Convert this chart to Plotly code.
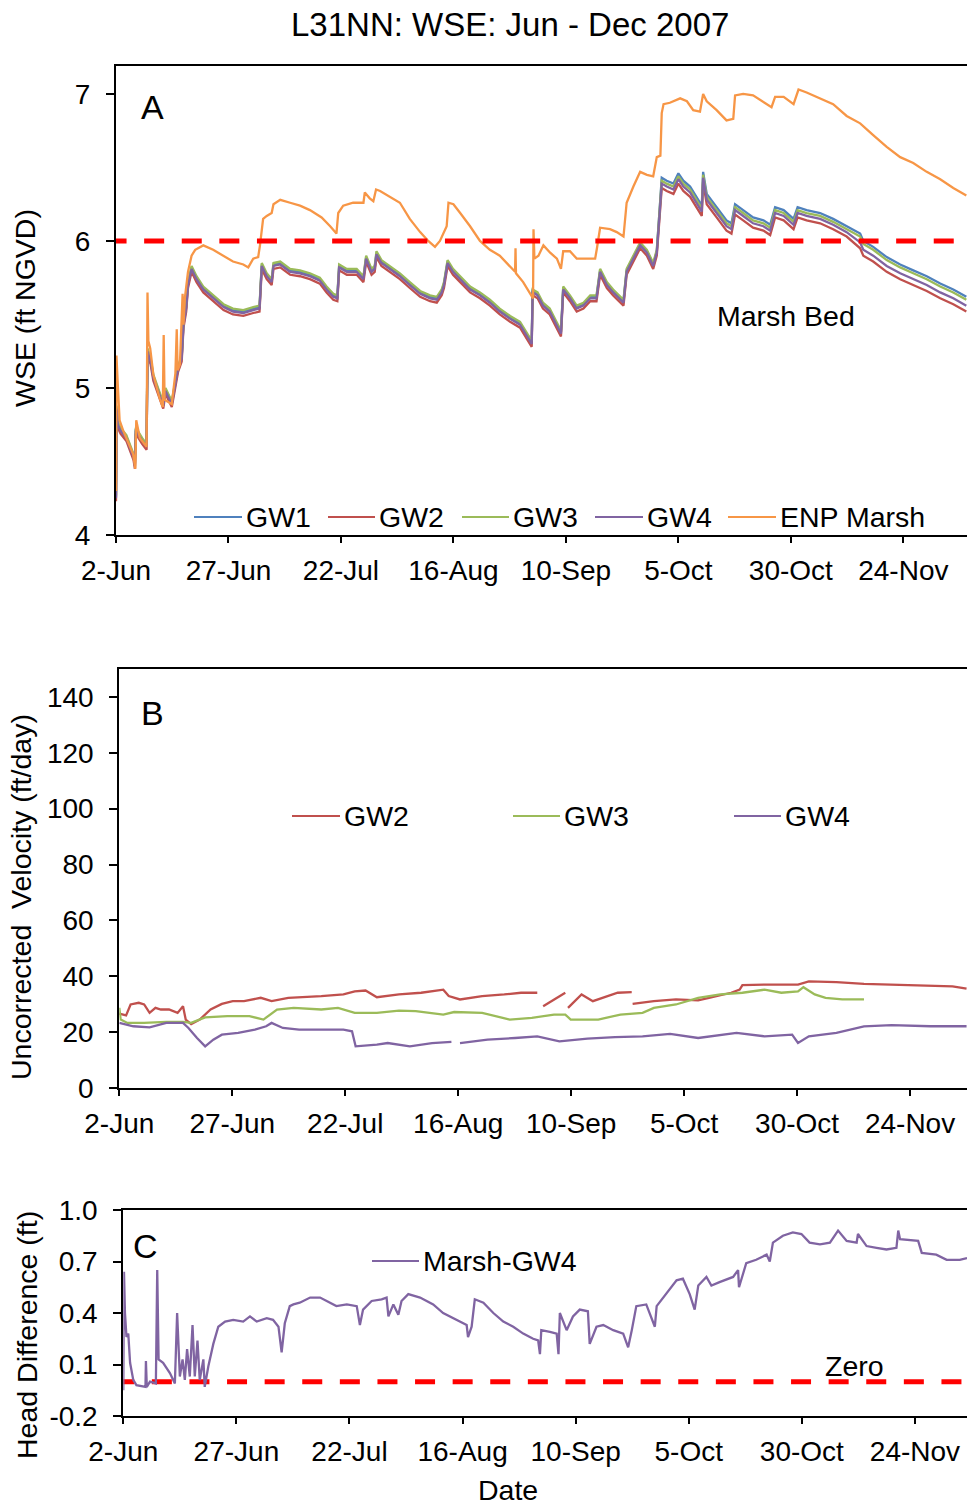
import pandas as pd
import plotly.graph_objects as go

W, H = 967, 1508
START = pd.Timestamp("2007-06-02")
FONT = "Liberation Sans, Arial, sans-serif"

# ---------------- data ----------------
tick_days = [0, 25, 50, 75, 100, 125, 150, 175]
tick_labels = ["2-Jun", "27-Jun", "22-Jul", "16-Aug", "10-Sep", "5-Oct", "30-Oct", "24-Nov"]

# Panel A: groundwater wells, days since 2-Jun-2007
gw_days = [
    0.0, 0.15, 0.4, 1.0, 2.3, 3.9, 4.2, 4.4, 5.8, 6.8,
    7.0, 7.7, 8.3, 9.4, 10.5, 11.0, 11.5, 12.4, 13.1, 13.8,
    14.6, 15.0, 15.6, 16.0, 16.8, 17.9, 19.4, 21.6, 23.9, 26.0,
    28.3, 30.5, 31.9, 32.4, 33.5, 34.6, 35.0, 36.5, 38.7, 40.9,
    43.1, 45.3, 46.8, 48.3, 49.2, 49.6, 51.3, 53.5, 55.0, 55.6,
    56.8, 57.5, 57.9, 59.0, 60.9, 63.1, 65.3, 67.6, 69.8, 71.3,
    72.4, 72.9, 73.7, 74.9, 76.5, 78.7, 80.9, 83.1, 85.3, 87.6,
    89.8, 91.2, 92.4, 92.6, 93.7, 94.9, 96.4, 97.9, 98.9, 99.4,
    100.9, 102.4, 103.9, 105.4, 106.8, 107.6, 109.1, 110.5, 112.8, 113.5,
    115.0, 116.5, 118.0, 119.4, 120.2, 120.6, 121.3, 122.4, 123.9, 125.0,
    126.1, 127.6, 129.0, 130.2, 130.5, 131.3, 133.5, 135.7, 136.8, 137.6,
    139.4, 141.6, 143.9, 145.4, 146.5, 148.4, 150.6, 151.5, 153.5, 156.5,
    159.4, 162.4, 165.4, 166.1, 168.3, 171.3, 174.3, 177.2, 180.2, 183.2,
    186.1, 189.0,
]
gw1_wse = [
    4.26, 4.87, 4.76, 4.72, 4.67, 4.54, 4.48, 4.72, 4.65, 4.61,
    5.26, 5.19, 5.08, 4.99, 4.89, 4.99, 4.96, 4.90, 5.02, 5.14,
    5.21, 5.44, 5.55, 5.71, 5.82, 5.75, 5.68, 5.62, 5.56, 5.53,
    5.52, 5.54, 5.55, 5.84, 5.77, 5.73, 5.84, 5.85, 5.80, 5.79,
    5.77, 5.74, 5.68, 5.63, 5.62, 5.83, 5.80, 5.80, 5.75, 5.89,
    5.80, 5.82, 5.92, 5.86, 5.82, 5.77, 5.71, 5.65, 5.62, 5.61,
    5.66, 5.71, 5.86, 5.80, 5.75, 5.68, 5.64, 5.59, 5.53, 5.48,
    5.44, 5.37, 5.31, 5.66, 5.64, 5.57, 5.53, 5.44, 5.38, 5.68,
    5.62, 5.55, 5.57, 5.62, 5.62, 5.80, 5.71, 5.66, 5.59, 5.80,
    5.89, 5.98, 5.93, 5.84, 5.93, 6.09, 6.43, 6.41, 6.39, 6.46,
    6.41, 6.37, 6.30, 6.24, 6.47, 6.32, 6.23, 6.14, 6.12, 6.25,
    6.21, 6.16, 6.14, 6.11, 6.23, 6.21, 6.15, 6.23, 6.21, 6.19,
    6.15, 6.10, 6.05, 6.00, 5.96, 5.89, 5.84, 5.80, 5.76, 5.71,
    5.67, 5.62,
]
gw2_wse = [
    4.23, 4.84, 4.73, 4.69, 4.64, 4.51, 4.45, 4.69, 4.62, 4.58,
    5.23, 5.16, 5.05, 4.96, 4.86, 4.96, 4.93, 4.87, 4.99, 5.11,
    5.18, 5.41, 5.52, 5.68, 5.79, 5.72, 5.65, 5.59, 5.53, 5.50,
    5.49, 5.51, 5.52, 5.81, 5.74, 5.70, 5.81, 5.82, 5.77, 5.76,
    5.74, 5.71, 5.65, 5.60, 5.59, 5.80, 5.77, 5.77, 5.72, 5.86,
    5.77, 5.79, 5.89, 5.83, 5.79, 5.74, 5.68, 5.62, 5.59, 5.58,
    5.63, 5.68, 5.83, 5.77, 5.72, 5.65, 5.61, 5.56, 5.50, 5.45,
    5.41, 5.34, 5.28, 5.63, 5.61, 5.54, 5.50, 5.41, 5.35, 5.65,
    5.59, 5.52, 5.54, 5.59, 5.59, 5.77, 5.68, 5.63, 5.56, 5.77,
    5.86, 5.95, 5.90, 5.81, 5.90, 6.06, 6.36, 6.34, 6.32, 6.39,
    6.34, 6.30, 6.23, 6.17, 6.40, 6.25, 6.16, 6.07, 6.05, 6.18,
    6.14, 6.09, 6.07, 6.04, 6.16, 6.14, 6.08, 6.16, 6.14, 6.12,
    6.08, 6.03, 5.95, 5.90, 5.86, 5.79, 5.74, 5.70, 5.66, 5.61,
    5.57, 5.52,
]
gw3_wse = [
    4.27, 4.88, 4.77, 4.73, 4.68, 4.55, 4.49, 4.73, 4.66, 4.62,
    5.27, 5.20, 5.09, 5.00, 4.90, 5.00, 4.97, 4.91, 5.03, 5.15,
    5.22, 5.45, 5.56, 5.72, 5.83, 5.76, 5.69, 5.63, 5.57, 5.54,
    5.53, 5.55, 5.56, 5.85, 5.78, 5.74, 5.85, 5.86, 5.81, 5.80,
    5.78, 5.75, 5.69, 5.64, 5.63, 5.84, 5.81, 5.81, 5.76, 5.90,
    5.81, 5.83, 5.93, 5.87, 5.83, 5.78, 5.72, 5.66, 5.63, 5.62,
    5.67, 5.72, 5.87, 5.81, 5.76, 5.69, 5.65, 5.60, 5.54, 5.49,
    5.45, 5.38, 5.32, 5.67, 5.65, 5.58, 5.54, 5.45, 5.39, 5.69,
    5.63, 5.56, 5.58, 5.63, 5.63, 5.81, 5.72, 5.67, 5.60, 5.81,
    5.90, 5.99, 5.94, 5.85, 5.94, 6.10, 6.41, 6.39, 6.37, 6.44,
    6.39, 6.35, 6.28, 6.22, 6.45, 6.30, 6.21, 6.12, 6.10, 6.23,
    6.19, 6.14, 6.12, 6.09, 6.21, 6.19, 6.13, 6.21, 6.19, 6.17,
    6.13, 6.08, 6.03, 5.98, 5.94, 5.87, 5.82, 5.78, 5.74, 5.69,
    5.65, 5.60,
]
gw4_wse = [
    4.25, 4.86, 4.75, 4.71, 4.66, 4.53, 4.47, 4.71, 4.64, 4.60,
    5.25, 5.18, 5.07, 4.98, 4.88, 4.98, 4.95, 4.89, 5.01, 5.13,
    5.20, 5.43, 5.54, 5.70, 5.81, 5.74, 5.67, 5.61, 5.55, 5.52,
    5.51, 5.53, 5.54, 5.83, 5.76, 5.72, 5.83, 5.84, 5.79, 5.78,
    5.76, 5.73, 5.67, 5.62, 5.61, 5.82, 5.79, 5.79, 5.74, 5.88,
    5.79, 5.81, 5.91, 5.85, 5.81, 5.76, 5.70, 5.64, 5.61, 5.60,
    5.65, 5.70, 5.85, 5.79, 5.74, 5.67, 5.63, 5.58, 5.52, 5.47,
    5.43, 5.36, 5.30, 5.65, 5.63, 5.56, 5.52, 5.43, 5.37, 5.67,
    5.61, 5.54, 5.56, 5.61, 5.61, 5.79, 5.70, 5.65, 5.58, 5.79,
    5.88, 5.97, 5.92, 5.83, 5.92, 6.08, 6.39, 6.37, 6.35, 6.42,
    6.37, 6.33, 6.26, 6.20, 6.43, 6.28, 6.19, 6.10, 6.08, 6.21,
    6.17, 6.12, 6.10, 6.07, 6.19, 6.17, 6.11, 6.19, 6.17, 6.15,
    6.11, 6.06, 5.99, 5.94, 5.90, 5.83, 5.78, 5.74, 5.70, 5.65,
    5.61, 5.56,
]

# Panel A: ENP marsh stage
enp_days = [
    0.0, 0.1, 0.4, 0.8, 1.6, 3.8, 4.3, 4.5, 5.3, 6.8,
    7.0, 7.2, 7.6, 8.3, 9.7, 10.4, 10.6, 10.8, 12.4, 13.2,
    13.5, 13.7, 14.2, 14.8, 15.0, 15.3, 16.0, 16.8, 17.6, 19.4,
    21.6, 23.8, 26.0, 28.3, 29.4, 30.5, 31.6, 32.0, 32.7, 33.5,
    34.6, 35.0, 36.5, 38.7, 40.9, 43.1, 44.6, 45.7, 47.6, 49.0,
    49.4, 50.5, 52.7, 55.0, 55.3, 56.4, 57.2, 57.8, 58.7, 60.9,
    63.1, 65.3, 67.6, 69.4, 70.9, 72.0, 73.5, 73.9, 75.0, 76.5,
    78.7, 80.9, 83.1, 85.3, 87.6, 88.7, 88.8, 88.9, 90.5, 92.0,
    92.7, 92.8, 93.0, 93.9, 95.0, 96.5, 98.0, 98.9, 99.4, 100.9,
    102.4, 104.6, 106.5, 106.9, 107.6, 109.8, 111.3, 112.8, 113.5, 115.0,
    116.5, 118.0, 119.4, 120.2, 121.0, 121.3, 121.7, 123.1, 125.4, 126.9,
    128.3, 129.8, 130.5, 131.3, 133.5, 135.7, 137.2, 137.6, 139.4, 141.6,
    143.1, 144.6, 145.7, 146.5, 148.4, 150.6, 151.7, 153.5, 156.5, 159.4,
    162.4, 165.4, 168.3, 171.3, 174.3, 177.2, 180.2, 183.2, 186.1, 189.0,
]
enp_wse = [
    4.30, 5.22, 5.02, 4.78, 4.71, 4.55, 4.45, 4.78, 4.66, 4.60,
    5.65, 5.32, 5.27, 5.09, 4.93, 4.87, 5.36, 4.92, 4.89, 5.10,
    5.40, 5.12, 5.16, 5.64, 5.43, 5.61, 5.79, 5.90, 5.94, 5.97,
    5.94, 5.90, 5.86, 5.84, 5.82, 5.88, 5.89, 5.97, 6.15, 6.17,
    6.19, 6.25, 6.28, 6.26, 6.24, 6.21, 6.18, 6.16, 6.10, 6.05,
    6.19, 6.24, 6.26, 6.26, 6.33, 6.29, 6.27, 6.35, 6.34, 6.30,
    6.26, 6.15, 6.06, 6.00, 5.96, 6.00, 6.10, 6.26, 6.25, 6.19,
    6.10, 6.00, 5.94, 5.90, 5.83, 5.79, 5.95, 5.78, 5.72, 5.65,
    5.61, 6.08, 5.88, 5.90, 5.97, 5.92, 5.88, 5.81, 5.93, 5.93,
    5.88, 5.88, 5.88, 5.95, 6.09, 6.08, 6.06, 6.03, 6.26, 6.37,
    6.47, 6.45, 6.44, 6.57, 6.58, 6.87, 6.93, 6.94, 6.97, 6.95,
    6.89, 6.88, 7.00, 6.95, 6.89, 6.82, 6.83, 6.99, 7.00, 6.99,
    6.96, 6.93, 6.91, 6.98, 6.98, 6.93, 7.03, 7.01, 6.97, 6.93,
    6.85, 6.80, 6.72, 6.64, 6.57, 6.53, 6.47, 6.42, 6.36, 6.31,
]
marsh_bed_elev = 6.0

# Panel B: uncorrected velocity (ft/day); None marks missing records
v2_days = [
    0.0, 1.5, 2.5, 4.3, 5.5, 6.7, 8.0, 9.2, 11.0, 12.9,
    14.1, 14.7, 15.9, 17.8, 20.2, 22.7, 25.1, 27.6, 31.3, 33.7,
    37.4, 41.0, 44.7, 49.6, 52.1, 54.5, 57.0, 61.9, 66.8, 71.7,
    72.9, 75.4, 80.3, 85.2, 88.9, 92.5, 93.2, 93.8, 96.0, 98.7,
    99.0, 99.3, 102.3, 104.8, 107.2, 110.3, 113.4, 113.5, 113.6, 118.3,
    123.2, 128.1, 130.5, 135.4, 137.3, 137.9, 142.8, 150.2, 152.6, 158.7,
    164.8, 172.2, 179.5, 184.4, 187.5,
]
v2_vel = [
    26.6, 26.0, 29.9, 30.5, 29.9, 26.9, 28.7, 28.1, 28.1, 26.9,
    29.3, 24.5, 22.9, 24.5, 28.1, 30.1, 31.1, 31.1, 32.3, 31.1,
    32.3, 32.5, 32.9, 33.5, 34.6, 34.9, 32.5, 33.5, 34.1, 35.2,
    32.9, 31.7, 32.9, 33.5, 34.1, 34.1, None, 29.3, 31.5, 34.1,
    None, 28.7, 33.5, 31.1, 32.3, 34.1, 34.3, None, 30.1, 31.1,
    31.7, 31.4, 32.3, 34.1, 35.2, 36.8, 37.0, 37.0, 38.2, 37.9,
    37.3, 37.0, 36.8, 36.4, 35.6,
]
v3_days = [
    0.0, 0.3, 1.8, 5.5, 10.4, 14.1, 15.9, 19.0, 23.9, 28.8,
    31.9, 34.9, 38.6, 44.7, 48.4, 52.1, 57.0, 61.9, 65.6, 71.7,
    74.1, 80.3, 86.4, 91.3, 96.2, 98.7, 99.9, 106.0, 110.9, 115.8,
    118.3, 123.2, 128.1, 133.0, 137.9, 142.8, 146.5, 150.2, 151.4, 153.9,
    156.3, 160.0, 164.8,
]
v3_vel = [
    28.7, 24.5, 23.3, 23.3, 23.7, 23.7, 23.3, 25.3, 25.7, 25.7,
    24.5, 28.1, 28.7, 28.1, 28.7, 26.9, 26.9, 27.7, 27.5, 26.3,
    27.2, 26.9, 24.5, 25.1, 26.3, 26.3, 24.5, 24.5, 26.3, 26.9,
    28.7, 29.9, 32.3, 33.5, 34.1, 35.2, 34.1, 34.6, 36.1, 33.5,
    32.3, 31.7, 31.7,
]
v4_days = [
    0.0, 3.1, 6.7, 10.4, 14.1, 15.3, 17.2, 19.0, 20.8, 22.7,
    26.3, 30.0, 32.5, 33.7, 36.2, 39.8, 44.7, 49.6, 51.5, 52.3,
    57.0, 59.4, 64.3, 69.2, 73.5, 74.4, 75.4, 81.5, 87.6, 92.5,
    97.4, 103.6, 109.7, 115.8, 121.9, 128.1, 136.6, 142.8, 148.9, 150.2,
    152.6, 158.7, 164.8, 170.9, 179.5, 187.5,
]
v4_vel = [
    23.3, 22.1, 21.7, 23.3, 23.3, 21.5, 17.9, 14.9, 17.3, 19.1,
    19.7, 20.9, 22.1, 23.3, 21.5, 20.9, 20.9, 20.9, 20.3, 14.9,
    15.5, 16.1, 14.9, 16.1, 16.5, None, 16.1, 17.3, 17.9, 18.5,
    16.7, 17.7, 18.2, 18.5, 19.4, 17.9, 19.7, 18.5, 19.1, 16.1,
    18.5, 19.7, 22.1, 22.5, 22.1, 22.1,
]

# Panel C: marsh minus GW4 head difference (ft)
hd_days = [
    0.0, 0.15, 0.37, 0.7, 1.1, 1.5, 2.2, 2.9, 4.9, 5.0,
    5.2, 5.9, 7.2, 7.5, 7.8, 8.8, 10.3, 11.4, 11.9, 12.5,
    13.1, 13.6, 14.1, 14.7, 15.3, 15.8, 16.4, 16.9, 17.7, 18.0,
    18.8, 19.9, 21.0, 22.5, 24.3, 26.5, 28.0, 29.5, 31.7, 33.1,
    34.3, 35.0, 35.7, 36.8, 37.6, 39.0, 41.3, 43.5, 45.7, 47.1,
    49.4, 51.6, 52.3, 53.0, 54.9, 57.1, 58.2, 58.6, 59.7, 60.8,
    61.5, 63.0, 65.6, 68.5, 70.7, 73.7, 75.9, 76.2, 77.0, 77.7,
    79.6, 81.8, 84.0, 86.2, 88.4, 90.6, 91.7, 92.1, 92.4, 94.3,
    95.8, 96.2, 96.5, 98.0, 99.4, 100.9, 102.7, 103.1, 104.6, 106.1,
    108.3, 110.5, 111.6, 112.4, 113.4, 115.6, 117.5, 117.9, 119.3, 120.8,
    122.3, 123.7, 125.2, 126.3, 127.1, 128.9, 130.0, 131.8, 134.8, 135.9,
    136.1, 137.7, 139.9, 142.2, 142.9, 143.6, 145.8, 148.0, 149.9, 151.7,
    154.0, 156.2, 158.0, 159.9, 162.1, 162.4, 164.3, 166.5, 168.7, 170.9,
    171.3, 171.7, 175.7, 176.5, 179.7, 182.0, 184.9, 186.5,
]
hd_ft = [
    -0.05, 0.64, 0.40, 0.26, 0.28, 0.11, 0.01, -0.02, -0.03, 0.12,
    -0.03, 0.00, -0.01, 0.65, 0.13, 0.11, 0.05, -0.01, 0.40, 0.03,
    0.13, 0.01, 0.19, 0.03, 0.33, 0.03, 0.24, 0.01, 0.13, -0.03,
    0.09, 0.22, 0.32, 0.35, 0.36, 0.35, 0.38, 0.35, 0.37, 0.36,
    0.32, 0.17, 0.34, 0.44, 0.45, 0.46, 0.49, 0.49, 0.46, 0.44,
    0.45, 0.44, 0.33, 0.42, 0.47, 0.48, 0.49, 0.38, 0.45, 0.39,
    0.47, 0.51, 0.49, 0.45, 0.40, 0.36, 0.33, 0.26, 0.32, 0.48,
    0.46, 0.40, 0.35, 0.32, 0.28, 0.25, 0.24, 0.16, 0.30, 0.29,
    0.28, 0.16, 0.40, 0.30, 0.38, 0.42, 0.41, 0.22, 0.32, 0.33,
    0.30, 0.28, 0.20, 0.30, 0.44, 0.45, 0.32, 0.44, 0.49, 0.54,
    0.59, 0.60, 0.51, 0.42, 0.56, 0.61, 0.56, 0.58, 0.61, 0.65,
    0.55, 0.69, 0.71, 0.74, 0.70, 0.81, 0.85, 0.87, 0.86, 0.81,
    0.80, 0.81, 0.88, 0.82, 0.81, 0.86, 0.79, 0.78, 0.77, 0.78,
    0.88, 0.83, 0.82, 0.75, 0.74, 0.71, 0.71, 0.72,
]
zero_level = 0.0

for a, b in [(gw_days, gw1_wse), (gw_days, gw2_wse), (gw_days, gw3_wse), (gw_days, gw4_wse),
             (enp_days, enp_wse), (v2_days, v2_vel), (v3_days, v3_vel), (v4_days, v4_vel),
             (hd_days, hd_ft)]:
    assert len(a) == len(b), (len(a), len(b))

# ---------------- styling ----------------
C_GW1, C_GW2, C_GW3, C_GW4, C_ENP = "#4F81BD", "#C0504D", "#9BBB59", "#8064A2", "#F79646"
C_REF = "#FF0000"
LW = 2.3
FS = 28.5


def to_dates(days):
    return [START + pd.Timedelta(days=d) for d in days]


def fx(p):
    return p / W


def fy(p):
    return 1 - p / H


fig = go.Figure()

# Panel A
for name, vals, col in [("GW1", gw1_wse, C_GW1), ("GW2", gw2_wse, C_GW2),
                        ("GW3", gw3_wse, C_GW3), ("GW4", gw4_wse, C_GW4)]:
    fig.add_trace(go.Scatter(x=to_dates(gw_days), y=vals, name=name, mode="lines",
                             line=dict(color=col, width=LW), xaxis="x", yaxis="y",
                             showlegend=False))
fig.add_trace(go.Scatter(x=to_dates(enp_days), y=enp_wse, name="ENP Marsh", mode="lines",
                         line=dict(color=C_ENP, width=LW), xaxis="x", yaxis="y",
                         showlegend=False))
fig.add_trace(go.Scatter(x=to_dates([-2.1, 195]), y=[marsh_bed_elev] * 2, mode="lines",
                         line=dict(color=C_REF, width=5, dash="20px,17.6px"),
                         xaxis="x", yaxis="y", showlegend=False, name="Marsh Bed"))

# Panel B
for name, d, vals, col in [("GW2", v2_days, v2_vel, C_GW2), ("GW3", v3_days, v3_vel, C_GW3),
                           ("GW4", v4_days, v4_vel, C_GW4)]:
    fig.add_trace(go.Scatter(x=to_dates(d), y=vals, name=name, mode="lines",
                             line=dict(color=col, width=LW), xaxis="x2", yaxis="y2",
                             showlegend=False, connectgaps=False))

# Panel C
fig.add_trace(go.Scatter(x=to_dates([-2.0, 195]), y=[zero_level] * 2, mode="lines",
                         line=dict(color=C_REF, width=5, dash="20px,17.6px"),
                         xaxis="x3", yaxis="y3", showlegend=False, name="Zero"))
fig.add_trace(go.Scatter(x=to_dates(hd_days), y=hd_ft, name="Marsh-GW4", mode="lines",
                         line=dict(color=C_GW4, width=LW), xaxis="x3", yaxis="y3",
                         showlegend=False))

tickfont = dict(family=FONT, size=28, color="black")
base_x = dict(showline=True, linecolor="black", linewidth=2, mirror=True, ticks="outside",
              ticklen=6, tickwidth=2, tickcolor="black", showgrid=False, zeroline=False,
              tickfont=tickfont, tickvals=to_dates(tick_days), ticktext=tick_labels,
              ticklabelstandoff=3, automargin=False)
base_y = dict(showline=True, linecolor="black", linewidth=2, ticks="outside", ticklen=8,
              tickwidth=2, tickcolor="black", showgrid=False, zeroline=False,
              tickfont=tickfont, ticklabelstandoff=10, automargin=False)

layout = dict(
    width=W, height=H, margin=dict(l=0, r=0, t=0, b=0, pad=0, autoexpand=False),
    paper_bgcolor="white", plot_bgcolor="white", showlegend=False,
    font=dict(family=FONT, color="black"),
    xaxis=dict(base_x, domain=[fx(116), 1], anchor="y",
               range=[START, START + pd.Timedelta(days=189.15)]),
    yaxis=dict(base_y, domain=[fy(535), fy(66)], anchor="x", range=[4, 7.19], dtick=1, tick0=4),
    xaxis2=dict(base_x, domain=[fx(119.3), 1], anchor="y2",
                range=[START, START + pd.Timedelta(days=187.6)]),
    yaxis2=dict(base_y, domain=[fy(1088), fy(669)], anchor="x2", range=[0, 150], dtick=20,
                tick0=0),
    xaxis3=dict(base_x, domain=[fx(123.3), 1], anchor="y3",
                range=[START, START + pd.Timedelta(days=186.5)]),
    yaxis3=dict(base_y, domain=[fy(1416), fy(1210)], anchor="x3", range=[-0.2, 1.0],
                tickvals=[-0.2, 0.1, 0.4, 0.7, 1.0], ticktext=["-0.2", "0.1", "0.4", "0.7", "1.0"]),
)

annotations = []


def text(x, y, s, size=FS, xanchor="center", angle=0, yanchor="middle"):
    annotations.append(dict(x=fx(x), y=fy(y), xref="paper", yref="paper", text=s,
                            showarrow=False, xanchor=xanchor, yanchor=yanchor,
                            textangle=angle, font=dict(family=FONT, size=size, color="black")))


text(510, 25, "L31NN: WSE: Jun - Dec 2007", size=33)
text(152, 107, "A", size=34)
text(786, 316, "Marsh Bed")
text(152, 713, "B", size=34)
text(145, 1246, "C", size=34)
text(854, 1366, "Zero")
text(508, 1508, "Date", yanchor="bottom")
text(25, 308, "WSE (ft NGVD)", angle=-90)
text(21, 897, "Uncorrected  Velocity (ft/day)", angle=-90)
text(27, 1335, "Head Difference (ft)", angle=-90)

shapes = []


def legend_item(x0, x1, y, label, color):
    shapes.append(dict(type="line", xref="paper", yref="paper", x0=fx(x0), x1=fx(x1),
                       y0=fy(y), y1=fy(y), line=dict(color=color, width=2)))
    text(x1 + 2, y, label, xanchor="left")


legend_item(194, 242, 517, "GW1", C_GW1)
legend_item(328, 375, 517, "GW2", C_GW2)
legend_item(462, 509, 517, "GW3", C_GW3)
legend_item(595, 643, 517, "GW4", C_GW4)
legend_item(728, 776, 517, "ENP Marsh", C_ENP)

legend_item(292, 340, 816, "GW2", C_GW2)
legend_item(513, 560, 816, "GW3", C_GW3)
legend_item(734, 781, 816, "GW4", C_GW4)

legend_item(372, 419, 1261, "Marsh-GW4", C_GW4)

layout["annotations"] = annotations
layout["shapes"] = shapes
fig.update_layout(**layout)

fig.write_html("out.html", include_plotlyjs=True, config={"displayModeBar": False})
